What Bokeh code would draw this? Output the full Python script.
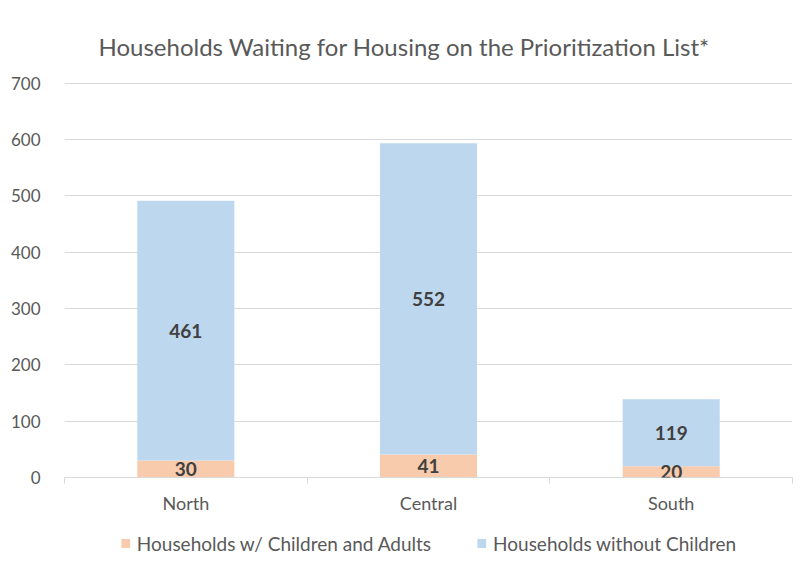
from bokeh.plotting import figure
from bokeh.layouts import column
from bokeh.models import (Range1d, FixedTicker, LabelSet, ColumnDataSource, Legend, LegendItem)
from bokeh.core.properties import value
from bokeh.embed import file_html
from bokeh.resources import INLINE

# ---- data ----
regions = ["North", "Central", "South"]
with_children = [30, 41, 20]
without_children = [461, 552, 119]
series_names = ["Households w/ Children and Adults", "Households without Children"]
y_ticks = [0, 100, 200, 300, 400, 500, 600, 700]
title_text = "Households Waiting for Housing on the Prioritization List*"

FONT = "Lato"
TXT = "#595959"
GRID = "#d9d9d9"
ORANGE = "#F8CBAD"
BLUE = "#BDD7EE"
colors = [ORANGE, BLUE]

# category slots on a linear scale: centre of slot i is i + 0.5
centres = [i + 0.5 for i in range(len(regions))]
boundaries = list(range(len(regions) + 1))

src = ColumnDataSource(dict(
    x=centres,
    children=with_children,
    nochildren=without_children,
))

p = figure(x_range=Range1d(0, len(regions)), y_range=Range1d(y_ticks[0], y_ticks[-1] + 1),
           width=804, height=519, output_backend="svg", toolbar_location=None,
           min_border_left=64, min_border_right=12, min_border_top=82, min_border_bottom=42)

p.outline_line_color = None
p.background_fill_color = "white"
p.border_fill_color = "white"

# title
p.title.text = title_text
p.title.align = "left"
p.title.text_font = FONT
p.title.text_font_size = "24px"
p.title.text_font_style = "normal"
p.title.text_color = TXT
p.title.standoff = 44
p.title.offset = 34

# y axis
p.yaxis.ticker = FixedTicker(ticks=y_ticks)
p.yaxis.axis_line_color = None
p.yaxis.major_tick_line_color = None
p.yaxis.minor_tick_line_color = None
p.yaxis.major_label_text_font = FONT
p.yaxis.major_label_text_font_size = "17px"
p.yaxis.major_label_text_color = TXT
p.yaxis.major_label_standoff = 18

p.ygrid.ticker = FixedTicker(ticks=y_ticks)
p.ygrid.grid_line_color = GRID
p.ygrid.grid_line_width = 1
p.xgrid.grid_line_color = None

# x axis: labels at slot centres, tick marks at slot boundaries
p.xaxis.ticker = FixedTicker(ticks=centres, minor_ticks=boundaries)
p.xaxis.major_label_overrides = {c: r for c, r in zip(centres, regions)}
p.xaxis.axis_line_color = GRID
p.xaxis.major_tick_line_color = None
p.xaxis.minor_tick_line_color = GRID
p.xaxis.minor_tick_in = 0
p.xaxis.minor_tick_out = 6
p.xaxis.major_label_text_font = FONT
p.xaxis.major_label_text_font_size = "18px"
p.xaxis.major_label_text_color = TXT
p.xaxis.major_label_standoff = 8

# bars
rs = p.vbar_stack(["children", "nochildren"], x="x", width=0.4,
                  color=colors, line_color=None, source=src)

# labels at segment centres
lab_src = ColumnDataSource(dict(
    x=centres + centres,
    y=[c / 2 for c in with_children] + [c + n / 2 for c, n in zip(with_children, without_children)],
    text=[str(v) for v in with_children] + [str(v) for v in without_children],
))
labels = LabelSet(x="x", y="y", text="text", source=lab_src,
                  text_align="center", text_baseline="middle",
                  text_font=value(FONT), text_font_size=value("19px"),
                  text_font_style=value("bold"), text_color=value("#404040"))
p.add_layout(labels)

# legend strip below the chart (separate small figure so nothing is clipped);
# its proxy renderers sit outside the strip's visible range
lg = figure(x_range=Range1d(0, 1), y_range=Range1d(0, 1), width=804, height=48,
            output_backend="svg", toolbar_location=None,
            min_border_left=0, min_border_right=0, min_border_top=0, min_border_bottom=0)
lg.axis.visible = False
lg.grid.visible = False
lg.outline_line_color = None
lg_r = [lg.vbar(x=[-5], top=[0], width=0.4, color=c, line_color=None) for c in colors]
legend = Legend(items=[LegendItem(label=n, renderers=[r]) for n, r in zip(series_names, lg_r)],
                orientation="horizontal", location="center",
                label_text_font=FONT, label_text_font_size="19px", label_text_color=TXT,
                glyph_width=11, glyph_height=11, label_standoff=6, spacing=45,
                border_line_color=None, background_fill_alpha=0, padding=0, margin=0)
lg.add_layout(legend, "center")

layout = column(p, lg, spacing=0)
open("out.html", "w").write(file_html(layout, INLINE))
